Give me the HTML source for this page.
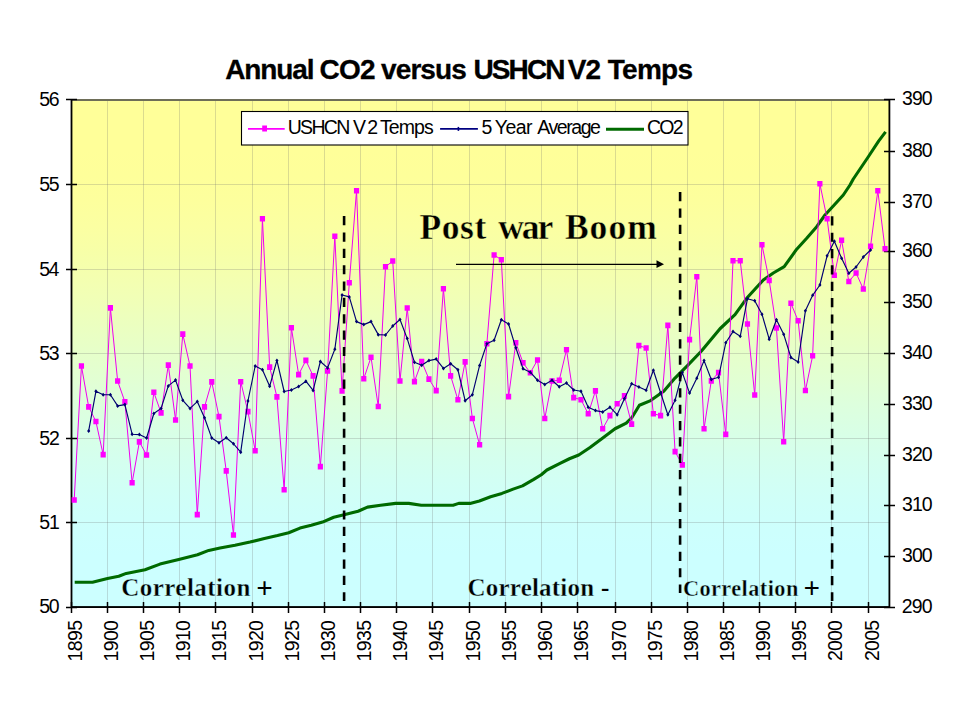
<!DOCTYPE html><html><head><meta charset="utf-8"><style>html,body{margin:0;padding:0;background:#fff;}svg{display:block;}text{font-family:"Liberation Sans",sans-serif;fill:#000;}</style></head><body>
<svg width="960" height="720" viewBox="0 0 960 720">
<defs><linearGradient id="bg" x1="0" y1="0" x2="0" y2="1"><stop offset="0" stop-color="rgb(255,255,153)"/><stop offset="0.05" stop-color="rgb(255,255,153)"/><stop offset="0.1" stop-color="rgb(255,255,153)"/><stop offset="0.15" stop-color="rgb(254,255,154)"/><stop offset="0.2" stop-color="rgb(253,255,157)"/><stop offset="0.25" stop-color="rgb(251,255,162)"/><stop offset="0.3" stop-color="rgb(247,255,168)"/><stop offset="0.35" stop-color="rgb(244,255,176)"/><stop offset="0.4" stop-color="rgb(240,255,184)"/><stop offset="0.45" stop-color="rgb(235,255,193)"/><stop offset="0.5" stop-color="rgb(230,255,202)"/><stop offset="0.55" stop-color="rgb(226,255,211)"/><stop offset="0.6" stop-color="rgb(221,255,221)"/><stop offset="0.65" stop-color="rgb(217,255,229)"/><stop offset="0.7" stop-color="rgb(213,255,237)"/><stop offset="0.75" stop-color="rgb(210,255,244)"/><stop offset="0.8" stop-color="rgb(207,255,249)"/><stop offset="0.85" stop-color="rgb(205,255,253)"/><stop offset="0.9" stop-color="rgb(204,255,255)"/><stop offset="0.95" stop-color="rgb(204,255,255)"/><stop offset="1" stop-color="rgb(204,255,255)"/></linearGradient></defs>
<rect x="0" y="0" width="960" height="720" fill="#fff"/>
<rect x="71.5" y="99.7" width="817.9" height="507.3" fill="url(#bg)"/>
<rect x="107" y="101" width="1" height="505" fill="#707070" fill-opacity="0.25"/><rect x="143" y="101" width="1" height="505" fill="#707070" fill-opacity="0.25"/><rect x="179" y="101" width="1" height="505" fill="#707070" fill-opacity="0.25"/><rect x="215" y="101" width="1" height="505" fill="#707070" fill-opacity="0.25"/><rect x="252" y="101" width="1" height="505" fill="#707070" fill-opacity="0.25"/><rect x="288" y="101" width="1" height="505" fill="#707070" fill-opacity="0.25"/><rect x="324" y="101" width="1" height="505" fill="#707070" fill-opacity="0.25"/><rect x="360" y="101" width="1" height="505" fill="#707070" fill-opacity="0.25"/><rect x="396" y="101" width="1" height="505" fill="#707070" fill-opacity="0.25"/><rect x="432" y="101" width="1" height="505" fill="#707070" fill-opacity="0.25"/><rect x="469" y="101" width="1" height="505" fill="#707070" fill-opacity="0.25"/><rect x="505" y="101" width="1" height="505" fill="#707070" fill-opacity="0.25"/><rect x="541" y="101" width="1" height="505" fill="#707070" fill-opacity="0.25"/><rect x="577" y="101" width="1" height="505" fill="#707070" fill-opacity="0.25"/><rect x="615" y="101" width="1" height="505" fill="#707070" fill-opacity="0.25"/><rect x="651" y="101" width="1" height="505" fill="#707070" fill-opacity="0.25"/><rect x="687" y="101" width="1" height="505" fill="#707070" fill-opacity="0.25"/><rect x="723" y="101" width="1" height="505" fill="#707070" fill-opacity="0.25"/><rect x="759" y="101" width="1" height="505" fill="#707070" fill-opacity="0.25"/><rect x="795" y="101" width="1" height="505" fill="#707070" fill-opacity="0.25"/><rect x="831" y="101" width="1" height="505" fill="#707070" fill-opacity="0.25"/><rect x="868" y="101" width="1" height="505" fill="#707070" fill-opacity="0.25"/><rect x="72" y="522" width="817" height="1" fill="#707070" fill-opacity="0.25"/><rect x="72" y="438" width="817" height="1" fill="#707070" fill-opacity="0.25"/><rect x="72" y="353" width="817" height="1" fill="#707070" fill-opacity="0.25"/><rect x="72" y="269" width="817" height="1" fill="#707070" fill-opacity="0.25"/><rect x="72" y="184" width="817" height="1" fill="#707070" fill-opacity="0.25"/>
<rect x="71" y="99" width="818" height="2" fill="#6e6e58"/>
<rect x="70.6" y="99" width="1.8" height="509" fill="#000"/>
<rect x="71" y="606.1" width="818.5" height="1.9" fill="#000"/>
<rect x="888.5" y="99" width="1.8" height="509" fill="#000"/>
<rect x="66" y="606.75" width="11" height="1.5" fill="#000"/><rect x="66" y="521.75" width="11" height="1.5" fill="#000"/><rect x="66" y="437.75" width="11" height="1.5" fill="#000"/><rect x="66" y="352.75" width="11" height="1.5" fill="#000"/><rect x="66" y="268.75" width="11" height="1.5" fill="#000"/><rect x="66" y="183.75" width="11" height="1.5" fill="#000"/><rect x="66" y="98.75" width="11" height="1.5" fill="#000"/><rect x="884" y="606.75" width="11" height="1.5" fill="#000"/><rect x="884" y="555.75" width="11" height="1.5" fill="#000"/><rect x="884" y="504.75" width="11" height="1.5" fill="#000"/><rect x="884" y="454.75" width="11" height="1.5" fill="#000"/><rect x="884" y="403.75" width="11" height="1.5" fill="#000"/><rect x="884" y="352.75" width="11" height="1.5" fill="#000"/><rect x="884" y="301.75" width="11" height="1.5" fill="#000"/><rect x="884" y="250.75" width="11" height="1.5" fill="#000"/><rect x="884" y="201.75" width="11" height="1.5" fill="#000"/><rect x="884" y="150.75" width="11" height="1.5" fill="#000"/><rect x="884" y="98.75" width="11" height="1.5" fill="#000"/><rect x="70.75" y="602" width="1.5" height="11" fill="#000"/><rect x="106.75" y="602" width="1.5" height="11" fill="#000"/><rect x="142.75" y="602" width="1.5" height="11" fill="#000"/><rect x="178.75" y="602" width="1.5" height="11" fill="#000"/><rect x="214.75" y="602" width="1.5" height="11" fill="#000"/><rect x="251.75" y="602" width="1.5" height="11" fill="#000"/><rect x="287.75" y="602" width="1.5" height="11" fill="#000"/><rect x="323.75" y="602" width="1.5" height="11" fill="#000"/><rect x="359.75" y="602" width="1.5" height="11" fill="#000"/><rect x="395.75" y="602" width="1.5" height="11" fill="#000"/><rect x="431.75" y="602" width="1.5" height="11" fill="#000"/><rect x="468.75" y="602" width="1.5" height="11" fill="#000"/><rect x="504.75" y="602" width="1.5" height="11" fill="#000"/><rect x="540.75" y="602" width="1.5" height="11" fill="#000"/><rect x="576.75" y="602" width="1.5" height="11" fill="#000"/><rect x="614.75" y="602" width="1.5" height="11" fill="#000"/><rect x="650.75" y="602" width="1.5" height="11" fill="#000"/><rect x="686.75" y="602" width="1.5" height="11" fill="#000"/><rect x="722.75" y="602" width="1.5" height="11" fill="#000"/><rect x="758.75" y="602" width="1.5" height="11" fill="#000"/><rect x="794.75" y="602" width="1.5" height="11" fill="#000"/><rect x="830.75" y="602" width="1.5" height="11" fill="#000"/><rect x="867.75" y="602" width="1.5" height="11" fill="#000"/>
<polyline points="74.7,582.25 92.5,582.25 107.5,578.5 118.75,576.25 126.25,573.4 145,569.7 160,564.1 178.75,559.4 197.5,554.7 208.75,550.4 220,548.1 235,545.3 250,542.1 264.4,538.4 277.5,535.6 288.75,532.8 300,528.1 311.25,525.3 322.5,522.1 333.75,517.25 345,514.6 358.1,511.25 367.5,507.1 380.6,505.25 395.6,503.4 408.75,503.4 421.25,505.25 432.5,505.25 453.1,505.25 458.75,503.4 470,503.4 479.4,501 490.6,496.8 501.9,493.4 513.1,489.1 522.5,485.9 533.75,479.4 541.25,474.7 546.9,470 560,463.4 569.4,458.75 578.75,455 590,447.5 603.75,437.2 615,428.75 626.25,423.1 631.9,417.5 639.4,405.3 650.6,400.6 663.75,391.25 675,378.1 687.2,365.9 701.25,351.25 720,328.75 735,314.7 746.7,298.3 763.3,280 773.3,273 784.2,266.7 796.7,249.2 806.7,238.3 816.7,226.7 825,215 834.2,205 843.3,195 850,185 853.3,179 868.5,156.5 878.6,141.1 885.6,131.9" fill="none" stroke="#006a00" stroke-width="3.1" stroke-linejoin="round"/>
<polyline points="74.2,500 81.44,366 88.68,406.9 95.92,421.5 103.16,454.6 110.4,307.9 117.64,381 124.88,401.8 132.12,482.75 139.36,441.9 146.6,455 153.84,392.3 161.08,412.9 168.31,365.1 175.55,420 182.79,334.1 190.03,366 197.27,514.6 204.51,406.9 211.75,381.9 218.99,416.6 226.23,470.9 233.47,535 240.71,381.7 247.95,411.6 255.19,450.7 262.43,218.8 269.67,367.1 276.91,396.9 284.15,489.7 291.39,327.75 298.63,374.6 305.87,360.4 313.11,375.9 320.35,466.6 327.59,370.9 334.83,236.25 342.07,390.9 349.3,282.75 356.54,190.7 363.78,378.75 371.02,357.2 378.26,406.5 385.5,266.8 392.74,261 399.98,381 407.22,308 414.46,381.6 421.7,361.5 428.94,379.1 436.18,390.6 443.42,288.75 450.66,375.9 457.9,399.75 465.14,361.9 472.38,418.5 479.62,444.75 486.86,343.7 494.1,255 501.34,259.7 508.58,396.6 515.82,342.75 523.06,362.8 530.29,372.8 537.53,360 544.77,418.5 552.01,381 559.25,380.25 566.49,349.7 573.73,397.6 580.97,399.7 588.21,413.75 595.45,390.9 602.69,428.75 609.93,415.6 617.17,403.8 624.41,395.9 631.65,424.1 638.89,345.6 646.13,348 653.37,413.75 660.61,415.6 667.85,325.4 675.09,451.6 682.33,464.9 689.57,339.6 696.81,276.8 704.05,428.75 711.28,380.9 718.52,372.6 725.76,434.4 733,260.8 740.24,260.8 747.48,324 754.72,395 761.96,244.7 769.2,280.4 776.44,328 783.68,441.7 790.92,303.3 798.16,320.8 805.4,390.5 812.64,355.8 819.88,183.8 827.12,218.8 834.36,275.3 841.6,240.3 848.84,281.5 856.08,273 863.32,289 870.56,246.3 877.8,190.8 885.04,248.8" fill="none" stroke="#F000F0" stroke-width="1.0" stroke-linejoin="round"/>
<path d="M71.6 497.2h5.2v5.6h-5.2zM78.84 363.2h5.2v5.6h-5.2zM86.08 404.1h5.2v5.6h-5.2zM93.32 418.7h5.2v5.6h-5.2zM100.56 451.8h5.2v5.6h-5.2zM107.8 305.1h5.2v5.6h-5.2zM115.04 378.2h5.2v5.6h-5.2zM122.28 399h5.2v5.6h-5.2zM129.52 479.95h5.2v5.6h-5.2zM136.76 439.1h5.2v5.6h-5.2zM144 452.2h5.2v5.6h-5.2zM151.24 389.5h5.2v5.6h-5.2zM158.48 410.1h5.2v5.6h-5.2zM165.71 362.3h5.2v5.6h-5.2zM172.95 417.2h5.2v5.6h-5.2zM180.19 331.3h5.2v5.6h-5.2zM187.43 363.2h5.2v5.6h-5.2zM194.67 511.8h5.2v5.6h-5.2zM201.91 404.1h5.2v5.6h-5.2zM209.15 379.1h5.2v5.6h-5.2zM216.39 413.8h5.2v5.6h-5.2zM223.63 468.1h5.2v5.6h-5.2zM230.87 532.2h5.2v5.6h-5.2zM238.11 378.9h5.2v5.6h-5.2zM245.35 408.8h5.2v5.6h-5.2zM252.59 447.9h5.2v5.6h-5.2zM259.83 216h5.2v5.6h-5.2zM267.07 364.3h5.2v5.6h-5.2zM274.31 394.1h5.2v5.6h-5.2zM281.55 486.9h5.2v5.6h-5.2zM288.79 324.95h5.2v5.6h-5.2zM296.03 371.8h5.2v5.6h-5.2zM303.27 357.6h5.2v5.6h-5.2zM310.51 373.1h5.2v5.6h-5.2zM317.75 463.8h5.2v5.6h-5.2zM324.99 368.1h5.2v5.6h-5.2zM332.23 233.45h5.2v5.6h-5.2zM339.47 388.1h5.2v5.6h-5.2zM346.7 279.95h5.2v5.6h-5.2zM353.94 187.9h5.2v5.6h-5.2zM361.18 375.95h5.2v5.6h-5.2zM368.42 354.4h5.2v5.6h-5.2zM375.66 403.7h5.2v5.6h-5.2zM382.9 264h5.2v5.6h-5.2zM390.14 258.2h5.2v5.6h-5.2zM397.38 378.2h5.2v5.6h-5.2zM404.62 305.2h5.2v5.6h-5.2zM411.86 378.8h5.2v5.6h-5.2zM419.1 358.7h5.2v5.6h-5.2zM426.34 376.3h5.2v5.6h-5.2zM433.58 387.8h5.2v5.6h-5.2zM440.82 285.95h5.2v5.6h-5.2zM448.06 373.1h5.2v5.6h-5.2zM455.3 396.95h5.2v5.6h-5.2zM462.54 359.1h5.2v5.6h-5.2zM469.78 415.7h5.2v5.6h-5.2zM477.02 441.95h5.2v5.6h-5.2zM484.26 340.9h5.2v5.6h-5.2zM491.5 252.2h5.2v5.6h-5.2zM498.74 256.9h5.2v5.6h-5.2zM505.98 393.8h5.2v5.6h-5.2zM513.22 339.95h5.2v5.6h-5.2zM520.46 360h5.2v5.6h-5.2zM527.69 370h5.2v5.6h-5.2zM534.93 357.2h5.2v5.6h-5.2zM542.17 415.7h5.2v5.6h-5.2zM549.41 378.2h5.2v5.6h-5.2zM556.65 377.45h5.2v5.6h-5.2zM563.89 346.9h5.2v5.6h-5.2zM571.13 394.8h5.2v5.6h-5.2zM578.37 396.9h5.2v5.6h-5.2zM585.61 410.95h5.2v5.6h-5.2zM592.85 388.1h5.2v5.6h-5.2zM600.09 425.95h5.2v5.6h-5.2zM607.33 412.8h5.2v5.6h-5.2zM614.57 401h5.2v5.6h-5.2zM621.81 393.1h5.2v5.6h-5.2zM629.05 421.3h5.2v5.6h-5.2zM636.29 342.8h5.2v5.6h-5.2zM643.53 345.2h5.2v5.6h-5.2zM650.77 410.95h5.2v5.6h-5.2zM658.01 412.8h5.2v5.6h-5.2zM665.25 322.6h5.2v5.6h-5.2zM672.49 448.8h5.2v5.6h-5.2zM679.73 462.1h5.2v5.6h-5.2zM686.97 336.8h5.2v5.6h-5.2zM694.21 274h5.2v5.6h-5.2zM701.45 425.95h5.2v5.6h-5.2zM708.68 378.1h5.2v5.6h-5.2zM715.92 369.8h5.2v5.6h-5.2zM723.16 431.6h5.2v5.6h-5.2zM730.4 258h5.2v5.6h-5.2zM737.64 258h5.2v5.6h-5.2zM744.88 321.2h5.2v5.6h-5.2zM752.12 392.2h5.2v5.6h-5.2zM759.36 241.9h5.2v5.6h-5.2zM766.6 277.6h5.2v5.6h-5.2zM773.84 325.2h5.2v5.6h-5.2zM781.08 438.9h5.2v5.6h-5.2zM788.32 300.5h5.2v5.6h-5.2zM795.56 318h5.2v5.6h-5.2zM802.8 387.7h5.2v5.6h-5.2zM810.04 353h5.2v5.6h-5.2zM817.28 181h5.2v5.6h-5.2zM824.52 216h5.2v5.6h-5.2zM831.76 272.5h5.2v5.6h-5.2zM839 237.5h5.2v5.6h-5.2zM846.24 278.7h5.2v5.6h-5.2zM853.48 270.2h5.2v5.6h-5.2zM860.72 286.2h5.2v5.6h-5.2zM867.96 243.5h5.2v5.6h-5.2zM875.2 188h5.2v5.6h-5.2zM882.44 246h5.2v5.6h-5.2z" fill="#FF00FF"/>
<polyline points="88.68,430.9 95.92,391.3 103.16,394.7 110.4,394.7 117.64,405.9 124.88,404.6 132.12,434.2 139.36,434.6 146.6,438 153.84,413.5 161.08,408.4 168.31,385.9 175.55,380.1 182.79,400.3 190.03,408.4 197.27,401.6 204.51,417.75 211.75,438.1 218.99,442.8 226.23,437.75 233.47,443.75 240.71,452.2 247.95,401 255.19,366 262.43,369.75 269.67,386.25 276.91,360.4 284.15,391.5 291.39,390 298.63,386.6 305.87,381.2 313.11,390.4 320.35,361.5 327.59,367.9 334.83,349.3 342.07,295 349.3,296.9 356.54,321.6 363.78,324.6 371.02,321.6 378.26,334.65 385.5,335 392.74,326 399.98,319.5 407.22,338.6 414.46,362.3 421.7,365.25 428.94,360.6 436.18,359.1 443.42,368.4 450.66,363.75 457.9,369.75 465.14,400.7 472.38,394.7 479.62,365.4 486.86,343.8 494.1,340.3 501.34,319.7 508.58,324 515.82,347.8 523.06,368.8 530.29,372.2 537.53,380.25 544.77,384.4 552.01,380.25 559.25,386.8 566.49,383.1 573.73,390 580.97,391.25 588.21,407.2 595.45,410.6 602.69,411.9 609.93,407.2 617.17,414.7 624.41,398.75 631.65,383.75 638.89,387.1 646.13,390.3 653.37,370.3 660.61,392.7 667.85,414.7 675.09,400.25 682.33,372.6 689.57,393.1 696.81,378.2 704.05,360.6 711.28,379.5 718.52,377.3 725.76,342.8 733,331.6 740.24,336.3 747.48,298.7 754.72,300.8 761.96,314.2 769.2,339.2 776.44,319.7 783.68,334.2 790.92,357.5 798.16,362 805.4,310.8 812.64,295.3 819.88,285 827.12,255.8 834.36,241.3 841.6,258.3 848.84,273.3 856.08,267 863.32,257 870.56,250" fill="none" stroke="#000070" stroke-width="1.15" stroke-linejoin="round"/>
<path d="M88.68 428.9l1.6 2l-1.6 2l-1.6 -2zM95.92 389.3l1.6 2l-1.6 2l-1.6 -2zM103.16 392.7l1.6 2l-1.6 2l-1.6 -2zM110.4 392.7l1.6 2l-1.6 2l-1.6 -2zM117.64 403.9l1.6 2l-1.6 2l-1.6 -2zM124.88 402.6l1.6 2l-1.6 2l-1.6 -2zM132.12 432.2l1.6 2l-1.6 2l-1.6 -2zM139.36 432.6l1.6 2l-1.6 2l-1.6 -2zM146.6 436l1.6 2l-1.6 2l-1.6 -2zM153.84 411.5l1.6 2l-1.6 2l-1.6 -2zM161.08 406.4l1.6 2l-1.6 2l-1.6 -2zM168.31 383.9l1.6 2l-1.6 2l-1.6 -2zM175.55 378.1l1.6 2l-1.6 2l-1.6 -2zM182.79 398.3l1.6 2l-1.6 2l-1.6 -2zM190.03 406.4l1.6 2l-1.6 2l-1.6 -2zM197.27 399.6l1.6 2l-1.6 2l-1.6 -2zM204.51 415.75l1.6 2l-1.6 2l-1.6 -2zM211.75 436.1l1.6 2l-1.6 2l-1.6 -2zM218.99 440.8l1.6 2l-1.6 2l-1.6 -2zM226.23 435.75l1.6 2l-1.6 2l-1.6 -2zM233.47 441.75l1.6 2l-1.6 2l-1.6 -2zM240.71 450.2l1.6 2l-1.6 2l-1.6 -2zM247.95 399l1.6 2l-1.6 2l-1.6 -2zM255.19 364l1.6 2l-1.6 2l-1.6 -2zM262.43 367.75l1.6 2l-1.6 2l-1.6 -2zM269.67 384.25l1.6 2l-1.6 2l-1.6 -2zM276.91 358.4l1.6 2l-1.6 2l-1.6 -2zM284.15 389.5l1.6 2l-1.6 2l-1.6 -2zM291.39 388l1.6 2l-1.6 2l-1.6 -2zM298.63 384.6l1.6 2l-1.6 2l-1.6 -2zM305.87 379.2l1.6 2l-1.6 2l-1.6 -2zM313.11 388.4l1.6 2l-1.6 2l-1.6 -2zM320.35 359.5l1.6 2l-1.6 2l-1.6 -2zM327.59 365.9l1.6 2l-1.6 2l-1.6 -2zM334.83 347.3l1.6 2l-1.6 2l-1.6 -2zM342.07 293l1.6 2l-1.6 2l-1.6 -2zM349.3 294.9l1.6 2l-1.6 2l-1.6 -2zM356.54 319.6l1.6 2l-1.6 2l-1.6 -2zM363.78 322.6l1.6 2l-1.6 2l-1.6 -2zM371.02 319.6l1.6 2l-1.6 2l-1.6 -2zM378.26 332.65l1.6 2l-1.6 2l-1.6 -2zM385.5 333l1.6 2l-1.6 2l-1.6 -2zM392.74 324l1.6 2l-1.6 2l-1.6 -2zM399.98 317.5l1.6 2l-1.6 2l-1.6 -2zM407.22 336.6l1.6 2l-1.6 2l-1.6 -2zM414.46 360.3l1.6 2l-1.6 2l-1.6 -2zM421.7 363.25l1.6 2l-1.6 2l-1.6 -2zM428.94 358.6l1.6 2l-1.6 2l-1.6 -2zM436.18 357.1l1.6 2l-1.6 2l-1.6 -2zM443.42 366.4l1.6 2l-1.6 2l-1.6 -2zM450.66 361.75l1.6 2l-1.6 2l-1.6 -2zM457.9 367.75l1.6 2l-1.6 2l-1.6 -2zM465.14 398.7l1.6 2l-1.6 2l-1.6 -2zM472.38 392.7l1.6 2l-1.6 2l-1.6 -2zM479.62 363.4l1.6 2l-1.6 2l-1.6 -2zM486.86 341.8l1.6 2l-1.6 2l-1.6 -2zM494.1 338.3l1.6 2l-1.6 2l-1.6 -2zM501.34 317.7l1.6 2l-1.6 2l-1.6 -2zM508.58 322l1.6 2l-1.6 2l-1.6 -2zM515.82 345.8l1.6 2l-1.6 2l-1.6 -2zM523.06 366.8l1.6 2l-1.6 2l-1.6 -2zM530.29 370.2l1.6 2l-1.6 2l-1.6 -2zM537.53 378.25l1.6 2l-1.6 2l-1.6 -2zM544.77 382.4l1.6 2l-1.6 2l-1.6 -2zM552.01 378.25l1.6 2l-1.6 2l-1.6 -2zM559.25 384.8l1.6 2l-1.6 2l-1.6 -2zM566.49 381.1l1.6 2l-1.6 2l-1.6 -2zM573.73 388l1.6 2l-1.6 2l-1.6 -2zM580.97 389.25l1.6 2l-1.6 2l-1.6 -2zM588.21 405.2l1.6 2l-1.6 2l-1.6 -2zM595.45 408.6l1.6 2l-1.6 2l-1.6 -2zM602.69 409.9l1.6 2l-1.6 2l-1.6 -2zM609.93 405.2l1.6 2l-1.6 2l-1.6 -2zM617.17 412.7l1.6 2l-1.6 2l-1.6 -2zM624.41 396.75l1.6 2l-1.6 2l-1.6 -2zM631.65 381.75l1.6 2l-1.6 2l-1.6 -2zM638.89 385.1l1.6 2l-1.6 2l-1.6 -2zM646.13 388.3l1.6 2l-1.6 2l-1.6 -2zM653.37 368.3l1.6 2l-1.6 2l-1.6 -2zM660.61 390.7l1.6 2l-1.6 2l-1.6 -2zM667.85 412.7l1.6 2l-1.6 2l-1.6 -2zM675.09 398.25l1.6 2l-1.6 2l-1.6 -2zM682.33 370.6l1.6 2l-1.6 2l-1.6 -2zM689.57 391.1l1.6 2l-1.6 2l-1.6 -2zM696.81 376.2l1.6 2l-1.6 2l-1.6 -2zM704.05 358.6l1.6 2l-1.6 2l-1.6 -2zM711.28 377.5l1.6 2l-1.6 2l-1.6 -2zM718.52 375.3l1.6 2l-1.6 2l-1.6 -2zM725.76 340.8l1.6 2l-1.6 2l-1.6 -2zM733 329.6l1.6 2l-1.6 2l-1.6 -2zM740.24 334.3l1.6 2l-1.6 2l-1.6 -2zM747.48 296.7l1.6 2l-1.6 2l-1.6 -2zM754.72 298.8l1.6 2l-1.6 2l-1.6 -2zM761.96 312.2l1.6 2l-1.6 2l-1.6 -2zM769.2 337.2l1.6 2l-1.6 2l-1.6 -2zM776.44 317.7l1.6 2l-1.6 2l-1.6 -2zM783.68 332.2l1.6 2l-1.6 2l-1.6 -2zM790.92 355.5l1.6 2l-1.6 2l-1.6 -2zM798.16 360l1.6 2l-1.6 2l-1.6 -2zM805.4 308.8l1.6 2l-1.6 2l-1.6 -2zM812.64 293.3l1.6 2l-1.6 2l-1.6 -2zM819.88 283l1.6 2l-1.6 2l-1.6 -2zM827.12 253.8l1.6 2l-1.6 2l-1.6 -2zM834.36 239.3l1.6 2l-1.6 2l-1.6 -2zM841.6 256.3l1.6 2l-1.6 2l-1.6 -2zM848.84 271.3l1.6 2l-1.6 2l-1.6 -2zM856.08 265l1.6 2l-1.6 2l-1.6 -2zM863.32 255l1.6 2l-1.6 2l-1.6 -2zM870.56 248l1.6 2l-1.6 2l-1.6 -2z" fill="#000070"/>
<path d="M344.1 216.1V601M680.1 192.1V593M832.1 216.3V601" stroke="#000" stroke-width="2.6" stroke-dasharray="9.2 7.15" fill="none"/>
<path d="M456 264.4H658" stroke="#000" stroke-width="1.2" fill="none"/>
<path d="M664 264.2L656.5 260.3L656.5 268.1Z" fill="#000"/>
<text x="225.25" y="78.6" font-size="28" font-weight="bold" letter-spacing="-1.12" style='font-family:"Liberation Sans",sans-serif' stroke="#000" stroke-width="0.3">Annual</text>
<text x="319.48" y="78.6" font-size="28" font-weight="bold" letter-spacing="-0.79" style='font-family:"Liberation Sans",sans-serif' stroke="#000" stroke-width="0.3">CO2</text>
<text x="381.12" y="78.6" font-size="28" font-weight="bold" letter-spacing="-0.93" style='font-family:"Liberation Sans",sans-serif' stroke="#000" stroke-width="0.3">versus</text>
<text x="473.38" y="78.6" font-size="28" font-weight="bold" letter-spacing="-1.84" style='font-family:"Liberation Sans",sans-serif' stroke="#000" stroke-width="0.3">USHCN</text>
<text x="567.85" y="78.6" font-size="28" font-weight="bold" letter-spacing="-0.98" style='font-family:"Liberation Sans",sans-serif' stroke="#000" stroke-width="0.3">V2</text>
<text x="607.73" y="78.6" font-size="28" font-weight="bold" letter-spacing="-0.71" style='font-family:"Liberation Sans",sans-serif' stroke="#000" stroke-width="0.3">Temps</text>
<text x="39.15" y="612.9" font-size="19.5" letter-spacing="-1.25" style='font-family:"Liberation Sans",sans-serif'>50</text>
<text x="39.15" y="529" font-size="19.5" letter-spacing="-1" style='font-family:"Liberation Sans",sans-serif'>51</text>
<text x="39.15" y="445" font-size="19.5" letter-spacing="-1" style='font-family:"Liberation Sans",sans-serif'>52</text>
<text x="39.15" y="360" font-size="19.5" letter-spacing="-1.12" style='font-family:"Liberation Sans",sans-serif'>53</text>
<text x="39.15" y="276" font-size="19.5" letter-spacing="-1.38" style='font-family:"Liberation Sans",sans-serif'>54</text>
<text x="39.15" y="191" font-size="19.5" letter-spacing="-1.12" style='font-family:"Liberation Sans",sans-serif'>55</text>
<text x="39.15" y="106" font-size="19.5" letter-spacing="-1.12" style='font-family:"Liberation Sans",sans-serif'>56</text>
<text x="901.8" y="612.8" font-size="19.5" letter-spacing="-0.89" style='font-family:"Liberation Sans",sans-serif'>290</text>
<text x="902.05" y="561.8" font-size="19.5" letter-spacing="-1.01" style='font-family:"Liberation Sans",sans-serif'>300</text>
<text x="902.05" y="510.8" font-size="19.5" letter-spacing="-1.01" style='font-family:"Liberation Sans",sans-serif'>310</text>
<text x="902.05" y="460.8" font-size="19.5" letter-spacing="-1.01" style='font-family:"Liberation Sans",sans-serif'>320</text>
<text x="902.05" y="409.8" font-size="19.5" letter-spacing="-1.01" style='font-family:"Liberation Sans",sans-serif'>330</text>
<text x="902.05" y="358.8" font-size="19.5" letter-spacing="-1.01" style='font-family:"Liberation Sans",sans-serif'>340</text>
<text x="902.05" y="307.8" font-size="19.5" letter-spacing="-1.01" style='font-family:"Liberation Sans",sans-serif'>350</text>
<text x="902.05" y="256.8" font-size="19.5" letter-spacing="-1.01" style='font-family:"Liberation Sans",sans-serif'>360</text>
<text x="902.05" y="207.8" font-size="19.5" letter-spacing="-1.01" style='font-family:"Liberation Sans",sans-serif'>370</text>
<text x="902.05" y="156.8" font-size="19.5" letter-spacing="-1.01" style='font-family:"Liberation Sans",sans-serif'>380</text>
<text x="902.05" y="104.8" font-size="19.5" letter-spacing="-1.01" style='font-family:"Liberation Sans",sans-serif'>390</text>
<text transform="translate(82 661.5) rotate(-90)" font-size="19.5" letter-spacing="-0.6" >1895</text>
<text transform="translate(118 661.5) rotate(-90)" font-size="19.5" letter-spacing="-0.64" >1900</text>
<text transform="translate(154 661.5) rotate(-90)" font-size="19.5" letter-spacing="-0.6" >1905</text>
<text transform="translate(190 661.5) rotate(-90)" font-size="19.5" letter-spacing="-0.64" >1910</text>
<text transform="translate(226 661.5) rotate(-90)" font-size="19.5" letter-spacing="-0.6" >1915</text>
<text transform="translate(263 661.5) rotate(-90)" font-size="19.5" letter-spacing="-0.64" >1920</text>
<text transform="translate(299 661.5) rotate(-90)" font-size="19.5" letter-spacing="-0.6" >1925</text>
<text transform="translate(335 661.5) rotate(-90)" font-size="19.5" letter-spacing="-0.64" >1930</text>
<text transform="translate(371 661.5) rotate(-90)" font-size="19.5" letter-spacing="-0.6" >1935</text>
<text transform="translate(407 661.5) rotate(-90)" font-size="19.5" letter-spacing="-0.64" >1940</text>
<text transform="translate(443 661.5) rotate(-90)" font-size="19.5" letter-spacing="-0.6" >1945</text>
<text transform="translate(480 661.5) rotate(-90)" font-size="19.5" letter-spacing="-0.64" >1950</text>
<text transform="translate(516 661.5) rotate(-90)" font-size="19.5" letter-spacing="-0.6" >1955</text>
<text transform="translate(552 661.5) rotate(-90)" font-size="19.5" letter-spacing="-0.64" >1960</text>
<text transform="translate(588 661.5) rotate(-90)" font-size="19.5" letter-spacing="-0.6" >1965</text>
<text transform="translate(626 661.5) rotate(-90)" font-size="19.5" letter-spacing="-0.64" >1970</text>
<text transform="translate(662 661.5) rotate(-90)" font-size="19.5" letter-spacing="-0.6" >1975</text>
<text transform="translate(698 661.5) rotate(-90)" font-size="19.5" letter-spacing="-0.64" >1980</text>
<text transform="translate(734 661.5) rotate(-90)" font-size="19.5" letter-spacing="-0.6" >1985</text>
<text transform="translate(770 661.5) rotate(-90)" font-size="19.5" letter-spacing="-0.64" >1990</text>
<text transform="translate(806 661.5) rotate(-90)" font-size="19.5" letter-spacing="-0.6" >1995</text>
<text transform="translate(842 661) rotate(-90)" font-size="19.5" letter-spacing="-0.81" >2000</text>
<text transform="translate(879 661) rotate(-90)" font-size="19.5" letter-spacing="-0.77" >2005</text>
<rect x="241.5" y="111.5" width="446.5" height="33.5" fill="#fff" stroke="#000" stroke-width="1.1"/>
<path d="M248 128.9H284.7" stroke="#FF00FF" stroke-width="1.7"/><rect x="262.2" y="125.5" width="4.8" height="6" fill="#FF00FF"/>
<path d="M440.1 128.9H477.9" stroke="#000080" stroke-width="1.8"/><path d="M458.4 126.9v4" stroke="#000080" stroke-width="1.6"/>
<path d="M606 129.2H644" stroke="#006a00" stroke-width="3.1"/>
<text x="287.7" y="133.7" font-size="19.5" letter-spacing="-1.67" style='font-family:"Liberation Sans",sans-serif'>USHCN</text>
<text x="353.07" y="133.7" font-size="19.5" letter-spacing="1.25" style='font-family:"Liberation Sans",sans-serif'>V2</text>
<text x="379.93" y="133.7" font-size="19.5" letter-spacing="-0.89" style='font-family:"Liberation Sans",sans-serif'>Temps</text>
<text x="481.45" y="133.7" font-size="19.5" letter-spacing="0" style='font-family:"Liberation Sans",sans-serif'>5</text>
<text x="494.7" y="133.7" font-size="19.5" letter-spacing="-0.5" style='font-family:"Liberation Sans",sans-serif'>Year</text>
<text x="537.27" y="133.7" font-size="19.5" letter-spacing="-1.44" style='font-family:"Liberation Sans",sans-serif'>Average</text>
<text x="647" y="133.7" font-size="19.5" letter-spacing="-1.81" style='font-family:"Liberation Sans",sans-serif'>CO2</text>
<text x="419.48" y="238.6" font-size="35.5" font-weight="bold" letter-spacing="0.58" style='font-family:"Liberation Serif",serif' stroke="#FCFF9F" stroke-width="0.4">Post</text>
<text x="498.18" y="238.6" font-size="35.5" font-weight="bold" letter-spacing="-1.97" style='font-family:"Liberation Serif",serif' stroke="#FCFF9F" stroke-width="0.4">war</text>
<text x="564.88" y="238.6" font-size="35.5" font-weight="bold" letter-spacing="1.07" style='font-family:"Liberation Serif",serif' stroke="#FCFF9F" stroke-width="0.4">Boom</text>
<text x="121.15" y="595.5" font-size="25" font-weight="bold" letter-spacing="0.47" style='font-family:"Liberation Serif",serif' stroke="#CCFFFF" stroke-width="0.35">Correlation</text>
<text x="256.3" y="597.6" font-size="29" font-weight="bold" letter-spacing="0" style='font-family:"Liberation Serif",serif'>+</text>
<text x="467.5" y="595.6" font-size="25" font-weight="bold" letter-spacing="0.21" style='font-family:"Liberation Serif",serif' stroke="#CCFFFF" stroke-width="0.35">Correlation</text>
<text x="601.02" y="595.6" font-size="25" font-weight="bold" letter-spacing="0" style='font-family:"Liberation Serif",serif'>-</text>
<text x="682.88" y="595.6" font-size="22.3" font-weight="bold" letter-spacing="0.44" style='font-family:"Liberation Serif",serif' stroke="#CCFFFF" stroke-width="0.35">Correlation</text>
<text x="803.5" y="597.6" font-size="29" font-weight="bold" letter-spacing="0" style='font-family:"Liberation Serif",serif'>+</text>
</svg></body></html>
